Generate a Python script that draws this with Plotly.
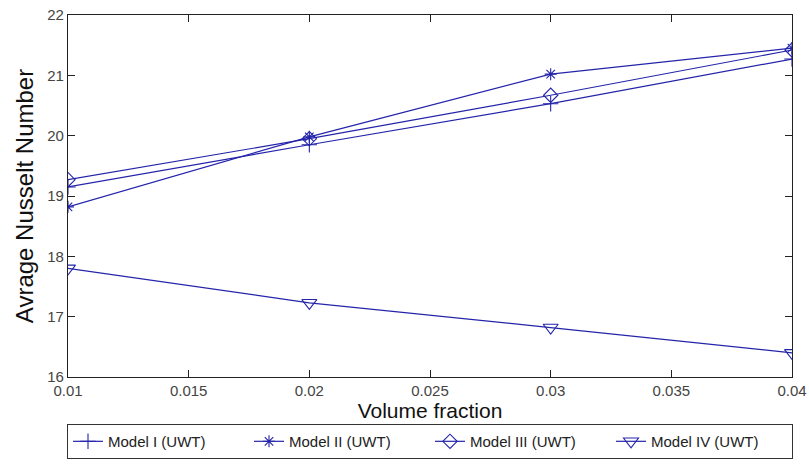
import plotly.graph_objects as go

volume_fraction = [0.01, 0.02, 0.03, 0.04]
model_1 = [19.15, 19.85, 20.53, 21.27]
model_2 = [18.82, 19.98, 21.02, 21.45]
model_3 = [19.27, 19.95, 20.67, 21.42]
model_4 = [17.80, 17.23, 16.82, 16.40]
series_names = ["Model I (UWT)", "Model II (UWT)", "Model III (UWT)", "Model IV (UWT)"]
x_ticks = [0.01, 0.015, 0.02, 0.025, 0.03, 0.035, 0.04]
x_tick_text = ["0.01", "0.015", "0.02", "0.025", "0.03", "0.035", "0.04"]
y_ticks = [16, 17, 18, 19, 20, 21, 22]

color = "#2424aa"
symbols = ["cross-thin-open", "asterisk-open", "diamond-open", "triangle-down-open"]
sizes = [11, 10, 11, 13]

fig = go.Figure()
for name, ys, sym, sz in zip(series_names, [model_1, model_2, model_3, model_4], symbols, sizes):
    fig.add_trace(go.Scatter(
        x=volume_fraction, y=ys, name=name, mode="lines+markers",
        line=dict(color=color, width=1.2),
        marker=dict(symbol=sym, size=sz, color=color, line=dict(color=color, width=1.1)),
    ))

font_family = "Liberation Sans, Arial, sans-serif"
fig.update_layout(
    width=809, height=471,
    margin=dict(l=68, r=17, t=15, b=78),
    paper_bgcolor="white", plot_bgcolor="white",
    font=dict(family=font_family, color="#222222"),
    showlegend=True,
    legend=dict(
        orientation="h", x=0.5, xanchor="center", y=-0.13, yanchor="top",
        bordercolor="#333333", borderwidth=1, bgcolor="white",
        font=dict(size=15, family=font_family, color="#222222"),
        entrywidth=136, tracegroupgap=0,
    ),
)
fig.update_xaxes(
    range=[0.01, 0.04], tickvals=x_ticks, ticktext=x_tick_text,
    ticks="inside", ticklen=7, tickcolor="#222222", mirror="ticks",
    showline=True, linecolor="#222222", linewidth=1.2, showgrid=False, zeroline=False,
    tickfont=dict(size=15, color="#444444"), automargin=False,
    title=dict(text="Volume fraction", font=dict(size=21, color="#111111"), standoff=4),
)
fig.update_yaxes(
    range=[16, 22], tickvals=y_ticks,
    ticks="inside", ticklen=7, tickcolor="#222222", mirror="ticks",
    showline=True, linecolor="#222222", linewidth=1.2, showgrid=False, zeroline=False,
    tickfont=dict(size=15, color="#444444"), automargin=False,
    title=dict(text="Avrage Nusselt Number", font=dict(size=24, color="#111111"), standoff=6),
)
fig.write_html("out.html", config={"displayModeBar": False},
               post_script="document.body.style.margin='0';")
